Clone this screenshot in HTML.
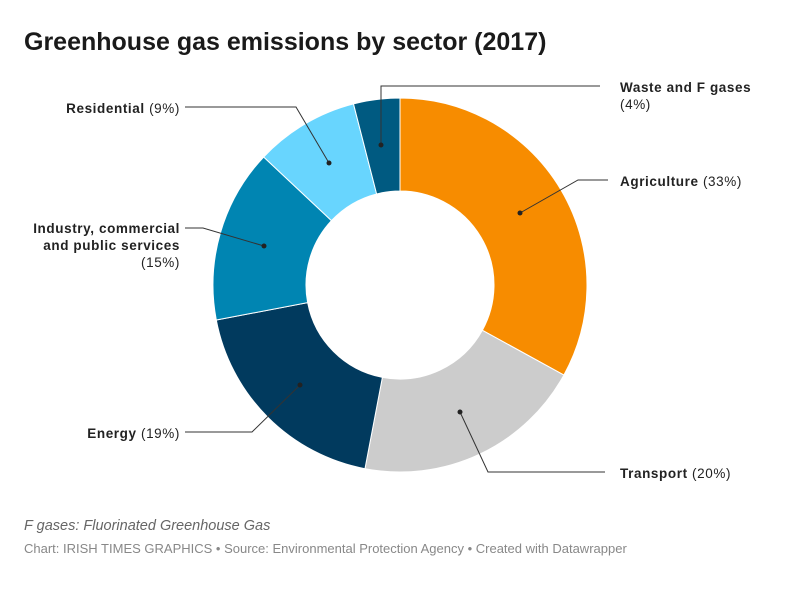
<!DOCTYPE html>
<html><head><meta charset="utf-8"><style>
html,body{margin:0;padding:0;background:#fff;}
body{width:800px;height:585px;overflow:hidden;font-family:"Liberation Sans",sans-serif;}
svg text{font-family:"Liberation Sans",sans-serif;}
</style></head><body>
<svg id="s" width="800" height="585" viewBox="0 0 800 585" xmlns="http://www.w3.org/2000/svg">
<text x="24" y="50" font-size="25" font-weight="bold" fill="#1a1a1a">Greenhouse gas emissions by sector (2017)</text>
<g id="pie"></g>
<g stroke="#333" stroke-width="1" fill="none">
<polyline points="381,145 381,86 600,86"/>
<polyline points="520,213 578,180 608,180"/>
<polyline points="460,412 488,472 605,472"/>
<polyline points="300,385 252,432 185,432"/>
<polyline points="264,246 203,228 185,228"/>
<polyline points="329,163 296,107 185,107"/>
</g>
<g fill="#222">
<circle cx="381" cy="145" r="2.5"/><circle cx="520" cy="213" r="2.5"/><circle cx="460" cy="412" r="2.5"/>
<circle cx="300" cy="385" r="2.5"/><circle cx="264" cy="246" r="2.5"/><circle cx="329" cy="163" r="2.5"/>
</g>
<g font-size="13.5" fill="#222" letter-spacing="0.6">
<text x="620" y="92"><tspan font-weight="bold">Waste and F gases</tspan></text>
<text x="620" y="109">(4%)</text>
<text x="620" y="186"><tspan font-weight="bold">Agriculture</tspan> (33%)</text>
<text x="620" y="478"><tspan font-weight="bold">Transport</tspan> (20%)</text>
<text x="180" y="438" text-anchor="end"><tspan font-weight="bold">Energy</tspan> (19%)</text>
<text x="180" y="113" text-anchor="end"><tspan font-weight="bold">Residential</tspan> (9%)</text>
<text x="180" y="233" text-anchor="end" font-weight="bold">Industry, commercial</text>
<text x="180" y="250" text-anchor="end" font-weight="bold">and public services</text>
<text x="180" y="267" text-anchor="end">(15%)</text>
</g>
<text x="24" y="530" font-size="14.5" font-style="italic" fill="#666">F gases: Fluorinated Greenhouse Gas</text>
<text x="24" y="553" font-size="13" fill="#888">Chart: IRISH TIMES GRAPHICS • Source: Environmental Protection Agency • Created with Datawrapper</text>
</svg>
<script>
var cx=400,cy=285,R=187,r=94;
var d=[[33,"#f78c00"],[20,"#cccccc"],[19,"#013a5e"],[15,"#0085b2"],[9,"#68d5fe"],[4,"#005a81"]];
var a=0,g=document.getElementById("pie"),h="";
function p(rad,ang){return [cx+rad*Math.sin(ang),cy-rad*Math.cos(ang)];}
d.forEach(function(x){var a0=a*Math.PI*2/100,a1=(a+x[0])*Math.PI*2/100;a+=x[0];
var L=(a1-a0)>Math.PI?1:0;var o0=p(R,a0),o1=p(R,a1),i1=p(r,a1),i0=p(r,a0);
h+='<path d="M'+o0+' A'+R+','+R+' 0 '+L+' 1 '+o1+' L'+i1+' A'+r+','+r+' 0 '+L+' 0 '+i0+' Z" fill="'+x[1]+'" stroke="#fff" stroke-width="1"/>';});
g.innerHTML=h;
</script>
</body></html>
